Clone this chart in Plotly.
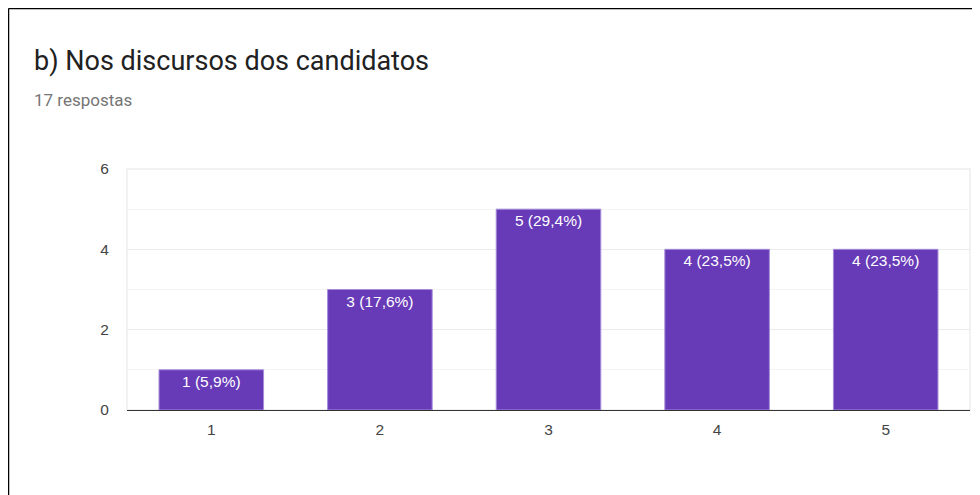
import plotly.graph_objects as go

categorias = ["1", "2", "3", "4", "5"]
respostas = [1, 3, 5, 4, 4]
rotulos = ["1 (5,9%)", "3 (17,6%)", "5 (29,4%)", "4 (23,5%)", "4 (23,5%)"]
titulo = "b) Nos discursos dos candidatos"
subtitulo = "17 respostas"

# a página tem margem de 8px no body, então a figura fica deslocada
OFF = 8
W, H = 980 - OFF, 495 - OFF
ml, mr, mt, mb = 119, 10, 161, 85
pw = W - ml - mr
ph = H - mt - mb


def px_x(p):
    # p em pixels da janela
    return (p - OFF - ml) / pw


def px_y(p):
    return (H - mb - (p - OFF)) / ph


fig = go.Figure()

fig.add_trace(go.Bar(
    x=categorias, y=respostas, text=rotulos,
    textposition="inside", insidetextanchor="end",
    textfont=dict(family="Liberation Sans, Arial", size=15.5, color="white"),
    marker=dict(color="#673ab7", line=dict(color="#a58bd8", width=1)),
    hoverinfo="skip",
))

fig.update_layout(
    width=W, height=H,
    margin=dict(l=ml, r=mr, t=mt, b=mb),
    paper_bgcolor="white", plot_bgcolor="white",
    bargap=0.38, showlegend=False,
    font=dict(family="Liberation Sans, Arial", color="#444"),
)

fig.update_xaxes(
    type="category", showgrid=False, showline=True, linecolor="#333", linewidth=1,
    ticks="outside", ticklen=5, tickcolor="rgba(0,0,0,0)",
    tickfont=dict(family="Liberation Sans, Arial", size=15.5, color="#444"),
)
fig.update_yaxes(
    range=[0, 6], dtick=2, showgrid=True, gridcolor="#ebebeb", gridwidth=1,
    minor=dict(dtick=1, showgrid=True, gridcolor="#f4f4f4", gridwidth=1),
    zeroline=False, showline=False,
    ticks="outside", ticklen=14, tickcolor="rgba(0,0,0,0)",
    tickfont=dict(family="Liberation Sans, Arial", size=15.5, color="#444"),
)

# borda clara da área do gráfico
fig.add_shape(type="rect", xref="paper", yref="paper", x0=0, x1=1, y0=0, y1=1,
              line=dict(color="#f1f1f1", width=2), layer="below")

fig.add_annotation(
    text=titulo, xref="paper", yref="paper", x=px_x(32), y=px_y(61),
    xanchor="left", yanchor="middle", showarrow=False,
    font=dict(family="Roboto", size=27, color="#212121"),
)
fig.add_annotation(
    text=subtitulo, xref="paper", yref="paper", x=px_x(32), y=px_y(100),
    xanchor="left", yanchor="middle", showarrow=False,
    font=dict(family="Roboto", size=17, color="#757575"),
)

# moldura do print (linhas pretas no topo e à esquerda)
fig.add_shape(type="line", xref="paper", yref="paper",
              x0=px_x(OFF + 0.5), x1=px_x(985), y0=px_y(OFF + 0.5), y1=px_y(OFF + 0.5),
              line=dict(color="black", width=1.5))
fig.add_shape(type="line", xref="paper", yref="paper",
              x0=px_x(OFF + 0.5), x1=px_x(OFF + 0.5), y0=px_y(OFF + 0.5), y1=px_y(500),
              line=dict(color="black", width=1.5))

fig.write_html("out.html")
